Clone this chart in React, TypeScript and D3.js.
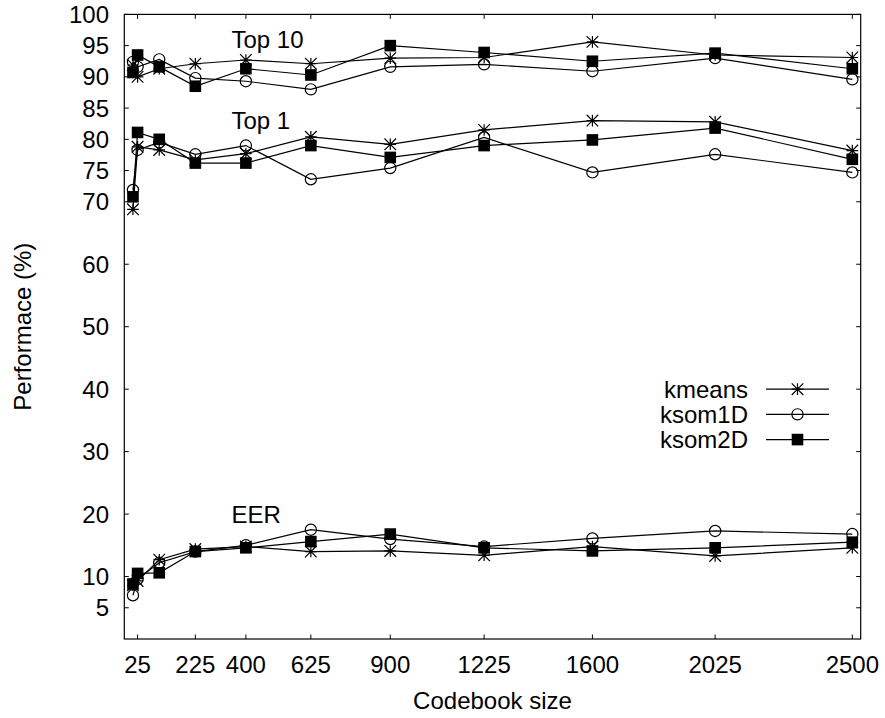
import React from "react";
import * as d3 from "d3";

// Codebook sizes evaluated (squares of the map side length)
const codebookSizes = [9, 25, 100, 225, 400, 625, 900, 1225, 1600, 2025, 2500];

// Top-10 identification rate (%)
const top10Kmeans = [91.9, 90.0, 91.3, 92.1, 92.7, 92.1, 93.0, 93.1, 95.6, 93.5, 93.1];
const top10Ksom1D = [92.4, 91.6, 92.8, 89.8, 89.3, 88.0, 91.6, 92.0, 90.9, 93.0, 89.6];
const top10Ksom2D = [90.7, 93.5, 91.6, 88.5, 91.3, 90.3, 95.0, 93.9, 92.5, 93.8, 91.3];

// Top-1 identification rate (%)
const top1Kmeans = [68.8, 78.8, 78.3, 76.7, 77.7, 80.4, 79.2, 81.5, 83.0, 82.8, 78.2];
const top1Ksom1D = [71.9, 78.3, 79.5, 77.6, 79.0, 73.6, 75.4, 80.3, 74.7, 77.6, 74.7];
const top1Ksom2D = [70.8, 81.1, 80.0, 76.2, 76.2, 79.0, 77.1, 79.0, 79.9, 81.8, 76.8];

// Equal error rate (%)
const eerKmeans = [8.6, 9.3, 12.7, 14.4, 14.8, 14.0, 14.1, 13.4, 14.8, 13.3, 14.6];
const eerKsom1D = [7.0, 9.6, 12.2, 14.0, 15.0, 17.5, 16.0, 14.8, 16.1, 17.3, 16.8];
const eerKsom2D = [8.8, 10.5, 10.6, 14.0, 14.6, 15.6, 16.8, 14.6, 14.1, 14.6, 15.5];

const xTicks = [25, 225, 400, 625, 900, 1225, 1600, 2025, 2500];
const yTicks = [5, 10, 20, 30, 40, 50, 60, 70, 75, 80, 85, 90, 95, 100];

const seriesNames = ["kmeans", "ksom1D", "ksom2D"];
const groupLabels = [
  { text: "Top 10", x: 350, y: 96 },
  { text: "Top 1", x: 350, y: 83 },
  { text: "EER", x: 350, y: 20 },
];

const W = 885;
const H = 718;
const plot = { left: 124.3, right: 860.7, top: 14.4, bottom: 639 };
const FONT = "'Liberation Sans', Arial, Helvetica, sans-serif";

const x = d3.scaleLinear().domain([-21, 2529]).range([plot.left, plot.right]);
const y = d3.scaleLinear().domain([0, 100]).range([plot.bottom, plot.top]);

const line = d3
  .line<[number, number]>()
  .x((d) => x(d[0]))
  .y((d) => y(d[1]));

type Kind = "star" | "circle" | "square";
const kinds: Kind[] = ["star", "circle", "square"];

function Marker({ kind, cx, cy }: { kind: Kind; cx: number; cy: number }) {
  if (kind === "circle") {
    return <circle cx={cx} cy={cy} r={5.6} fill="none" stroke="#000" strokeWidth={1.2} />;
  }
  if (kind === "square") {
    return <rect x={cx - 5.8} y={cy - 5.8} width={11.6} height={11.6} fill="#000" />;
  }
  const s = 5.8;
  return (
    <path
      d={`M${cx - s},${cy}H${cx + s}M${cx},${cy - s}V${cy + s}M${cx - s},${cy - s}L${cx + s},${cy + s}M${cx - s},${cy + s}L${cx + s},${cy - s}`}
      stroke="#000"
      strokeWidth={1.2}
      fill="none"
    />
  );
}

const groups = [
  [top10Kmeans, top10Ksom1D, top10Ksom2D],
  [top1Kmeans, top1Ksom1D, top1Ksom2D],
  [eerKmeans, eerKsom1D, eerKsom2D],
];

export default function App() {
  const tick = 4.5;
  return (
    <svg
      width={W}
      height={H}
      style={{ position: "absolute", left: 0, top: 0, background: "#fff" }}
      fontFamily={FONT}
    >
      <rect width={W} height={H} fill="#fff" />

      {/* ticks, mirrored on all four sides */}
      <g stroke="#000" strokeWidth={1}>
        {xTicks.map((t) => (
          <g key={`xt${t}`}>
            <line x1={x(t)} x2={x(t)} y1={plot.bottom} y2={plot.bottom - tick} />
            <line x1={x(t)} x2={x(t)} y1={plot.top} y2={plot.top + tick} />
          </g>
        ))}
        {yTicks.map((t) => (
          <g key={`yt${t}`}>
            <line x1={plot.left} x2={plot.left + tick} y1={y(t)} y2={y(t)} />
            <line x1={plot.right} x2={plot.right - tick} y1={y(t)} y2={y(t)} />
          </g>
        ))}
      </g>

      {/* tick labels */}
      <g fontSize={24} fill="#000">
        {xTicks.map((t) => (
          <text key={`xl${t}`} x={x(t)} y={673} textAnchor="middle">
            {t}
          </text>
        ))}
        {yTicks.map((t) => (
          <text key={`yl${t}`} x={109} y={y(t)} textAnchor="end" dominantBaseline="central">
            {t}
          </text>
        ))}
      </g>

      {/* axis titles */}
      <text x={(plot.left + plot.right) / 2} y={709} textAnchor="middle" fontSize={24}>
        Codebook size
      </text>
      <text
        transform={`translate(31,${(plot.top + plot.bottom) / 2}) rotate(-90)`}
        textAnchor="middle"
        fontSize={24}
      >
        Performace (%)
      </text>

      {/* group labels */}
      {groupLabels.map((g) => (
        <text key={g.text} x={x(g.x)} y={y(g.y)} fontSize={24} dominantBaseline="central">
          {g.text}
        </text>
      ))}

      {/* data: lines then markers per series */}
      {[0, 1, 2].map((si) => (
        <g key={`s${si}`}>
          {groups.map((grp, gi) => {
            const pts: [number, number][] = codebookSizes.map((c, i) => [c, grp[si][i]]);
            return (
              <g key={`g${gi}`}>
                <path d={line(pts) || ""} fill="none" stroke="#000" strokeWidth={1.2} />
                {pts.map((p, i) => (
                  <Marker key={i} kind={kinds[si]} cx={x(p[0])} cy={y(p[1])} />
                ))}
              </g>
            );
          })}
        </g>
      ))}

      {/* legend */}
      {seriesNames.map((name, i) => {
        const ly = y(40) - i * 25.2;
        const cy = y(40) + i * 25.2;
        void ly;
        return (
          <g key={name}>
            <text x={748} y={cy} textAnchor="end" dominantBaseline="central" fontSize={24}>
              {name}
            </text>
            <line x1={766} x2={829} y1={cy} y2={cy} stroke="#000" strokeWidth={1.2} />
            <Marker kind={kinds[i]} cx={797.5} cy={cy} />
          </g>
        );
      })}

      {/* frame */}
      <rect
        x={plot.left}
        y={plot.top}
        width={plot.right - plot.left}
        height={plot.bottom - plot.top}
        fill="none"
        stroke="#000"
        strokeWidth={1.2}
      />
    </svg>
  );
}
